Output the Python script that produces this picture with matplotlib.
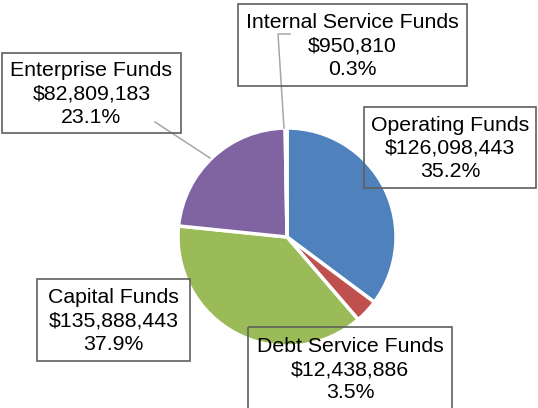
import matplotlib
matplotlib.use('Agg')
import matplotlib.pyplot as plt
from matplotlib.patches import Rectangle

# fund data
funds = ['Operating Funds', 'Debt Service Funds', 'Capital Funds',
         'Enterprise Funds', 'Internal Service Funds']
amounts = [126098443, 12438886, 135888443, 82809183, 950810]
colors = ['#4F81BD', '#C0504D', '#9BBB59', '#8064A2', '#4BACC6']

# label box layout in pixel coords (x0, y0, x1, y1), y measured from top
boxes = [(364, 107, 536, 188),
         (248, 327, 452, 410),
         (37, 279, 190, 361),
         (2, 53, 181, 133),
         (238, 4, 467, 86)]

plt.rcParams['font.family'] = ['Liberation Sans', 'DejaVu Sans']

fig = plt.figure(figsize=(5.38, 4.08), dpi=100)
ax = fig.add_axes([0, 0, 1, 1])

# y axis inverted, so counterclock=True reads clockwise on screen
ax.pie(amounts, colors=colors, startangle=-90, counterclock=True,
       center=(287, 237), radius=109,
       explode=[0, 0.05, 0, 0, 0],
       wedgeprops=dict(edgecolor='white', linewidth=2.5))
ax.set_xlim(0, 538)
ax.set_ylim(408, 0)
ax.set_aspect('equal')
ax.axis('off')

# leader lines
ax.plot([155, 210], [122, 158], color='#A6A6A6', lw=1.1, zorder=1)
ax.plot([290, 278, 284], [34, 34, 128], color='#A6A6A6', lw=1.1, zorder=1)

total = sum(amounts)
for name, amt, b in zip(funds, amounts, boxes):
    x0, y0, x1, y1 = b
    ax.add_patch(Rectangle((x0, y0), x1 - x0, y1 - y0, fill=False,
                           edgecolor='#5F5F5F', lw=1.2, zorder=3,
                           clip_on=False))
    pct = amt / total * 100
    label = '%s\n$%s\n%.1f%%' % (name, format(amt, ','), pct)
    ax.text((x0 + x1) / 2, (y0 + y1) / 2 + 1, label, ha='center', va='center',
            fontsize=15.3, linespacing=1.27, color='black', zorder=4)

fig.savefig('out.png', dpi=100)
